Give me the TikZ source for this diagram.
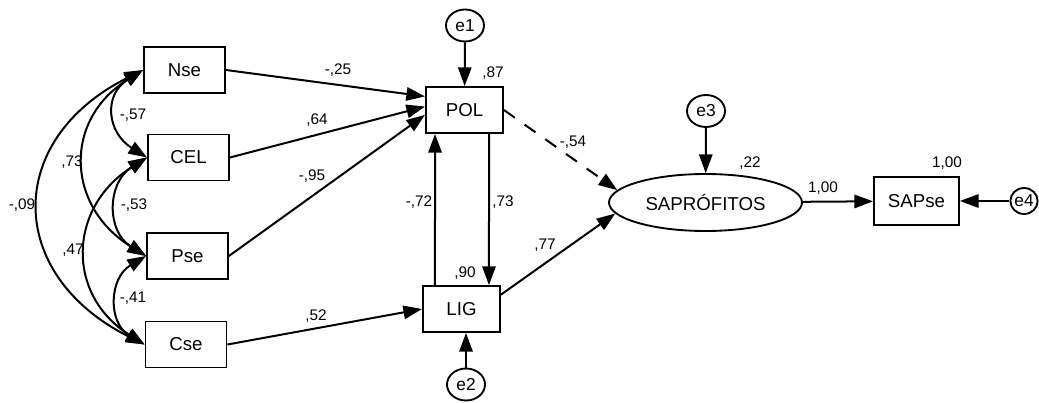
\documentclass[tikz,border=0pt]{standalone}
\usepackage{fontspec}
\setmainfont{Liberation Sans}
\usetikzlibrary{arrows.meta}
\usetikzlibrary{shapes.geometric}

\tikzset{
  obs/.style={draw, line width=1.4pt, minimum width=60.75pt, minimum height=34.5pt,
    inner sep=0pt, font=\fontsize{14}{16}\selectfont},
  lat/.style={draw, ellipse, line width=1.4pt, minimum width=144.75pt, minimum height=42.75pt,
    inner sep=0pt, font=\fontsize{14}{16}\selectfont},
  err/.style={draw, ellipse, line width=1.4pt, minimum width=28.5pt, minimum height=24pt,
    inner sep=0pt, font=\fontsize{13}{15}\selectfont},
  reg/.style={line width=1.5pt, -{Triangle[length=14pt,width=10pt]}},
  cov/.style={line width=1.5pt, {Triangle[length=14pt,width=10pt]}-{Triangle[length=14pt,width=10pt]}},
  lbl/.style={font=\fontsize{11.5}{13}\selectfont, inner sep=0pt},
}

\begin{document}
\begin{tikzpicture}[x=0.75pt,y=-0.75pt]
    \useasboundingbox (0,0) rectangle (1039,403);

    % observed variables
    \node[obs] (Nse) at (184.5,70) {Nse};
    \node[obs] (CEL) at (188.5,157.5) {CEL};
    \node[obs] (Pse) at (187.5,256) {Pse};
    \node[obs] (Cse) at (186,344.5) {Cse};
    \node[obs, minimum width=57.75pt] (POL) at (464.5,110) {POL};
    \node[obs, minimum width=57.75pt] (LIG) at (461.5,309) {LIG};
    \node[lat] (SAP) at (705.5,202.5) {SAPRÓFITOS};
    \node[obs, minimum width=63.75pt, minimum height=36pt] (SAPse) at (916.5,201) {SAPse};

    % errors
    \node[err] (e1) at (465,25.5) {e1};
    \node[err] (e2) at (466,384.5) {e2};
    \node[err] (e3) at (706,111) {e3};
    \node[err, minimum width=19.5pt, minimum height=19.5pt] (e4) at (1024,201) {e4};

    % paths
    \draw[reg] (Nse.east) -- (POL.161);
    \draw[reg] (CEL.east) -- (POL.175);
    \draw[reg] (Pse.east) -- (POL.187);
    \draw[reg] (Cse.east) -- (LIG.west);
    \draw[reg] ([xshift=-19.9pt]LIG.north) -- ([xshift=-22.1pt]POL.south);
    \draw[reg] ([xshift=18.4pt]POL.south) -- ([xshift=20.6pt]LIG.north);
    \draw[reg, dash pattern=on 10pt off 9pt] (POL.east) -- (SAP.172);
    \draw[reg] (LIG.20) -- (SAP.187);
    \draw[reg] (SAP) -- (SAPse);
    \draw[reg] (e1) -- (POL);
    \draw[reg] (e2.north) -- (e2.north |- LIG.south);
    \draw[reg] (e3) -- (SAP);
    \draw[reg] (e4) -- (SAPse);

    % covariances
    \draw[cov] (Nse.west) .. controls +(-40,25) and +(-40,-25) .. (CEL.west);
    \draw[cov] (Nse.west) .. controls +(-80,50) and +(-80,-50) .. (Pse.west);
    \draw[cov] (Nse.west) .. controls +(-139,70) and +(-139,-70) .. (Cse.west);
    \draw[cov] (CEL.west) .. controls +(-40,25) and +(-40,-25) .. (Pse.west);
    \draw[cov] (CEL.west) .. controls +(-79,50) and +(-79,-50) .. (Cse.west);
    \draw[cov] (Pse.west) .. controls +(-37,22) and +(-37,-22) .. (Cse.west);

    % estimates
    \node[lbl] (w1) at (338,70) {-,25};
    \node[lbl] (w2) at (317,120) {,64};
    \node[lbl] (w3) at (312,176) {-,95};
    \node[lbl] (w4) at (316,316) {,52};
    \node[lbl] (w5) at (419,202) {-,72};
    \node[lbl] (w6) at (503,202) {,73};
    \node[lbl] (w7) at (545,245) {,77};
    \node[lbl] (w8) at (573,142) {-,54};
    \node[lbl] (w9) at (823,188) {1,00};
    \node[lbl] (c1) at (133,115) {-,57};
    \node[lbl] (c2) at (72,162) {,73};
    \node[lbl] (c3) at (22,205) {-,09};
    \node[lbl] (c4) at (134,205) {-,53};
    \node[lbl] (c5) at (73,250) {,47};
    \node[lbl] (c6) at (133,298) {-,41};
    \node[lbl] (r1) at (493,73) {,87};
    \node[lbl] (r2) at (465,273) {,90};
    \node[lbl] (r3) at (750,163) {,22};
    \node[lbl] (r4) at (947,163) {1,00};
\end{tikzpicture}
\end{document}
